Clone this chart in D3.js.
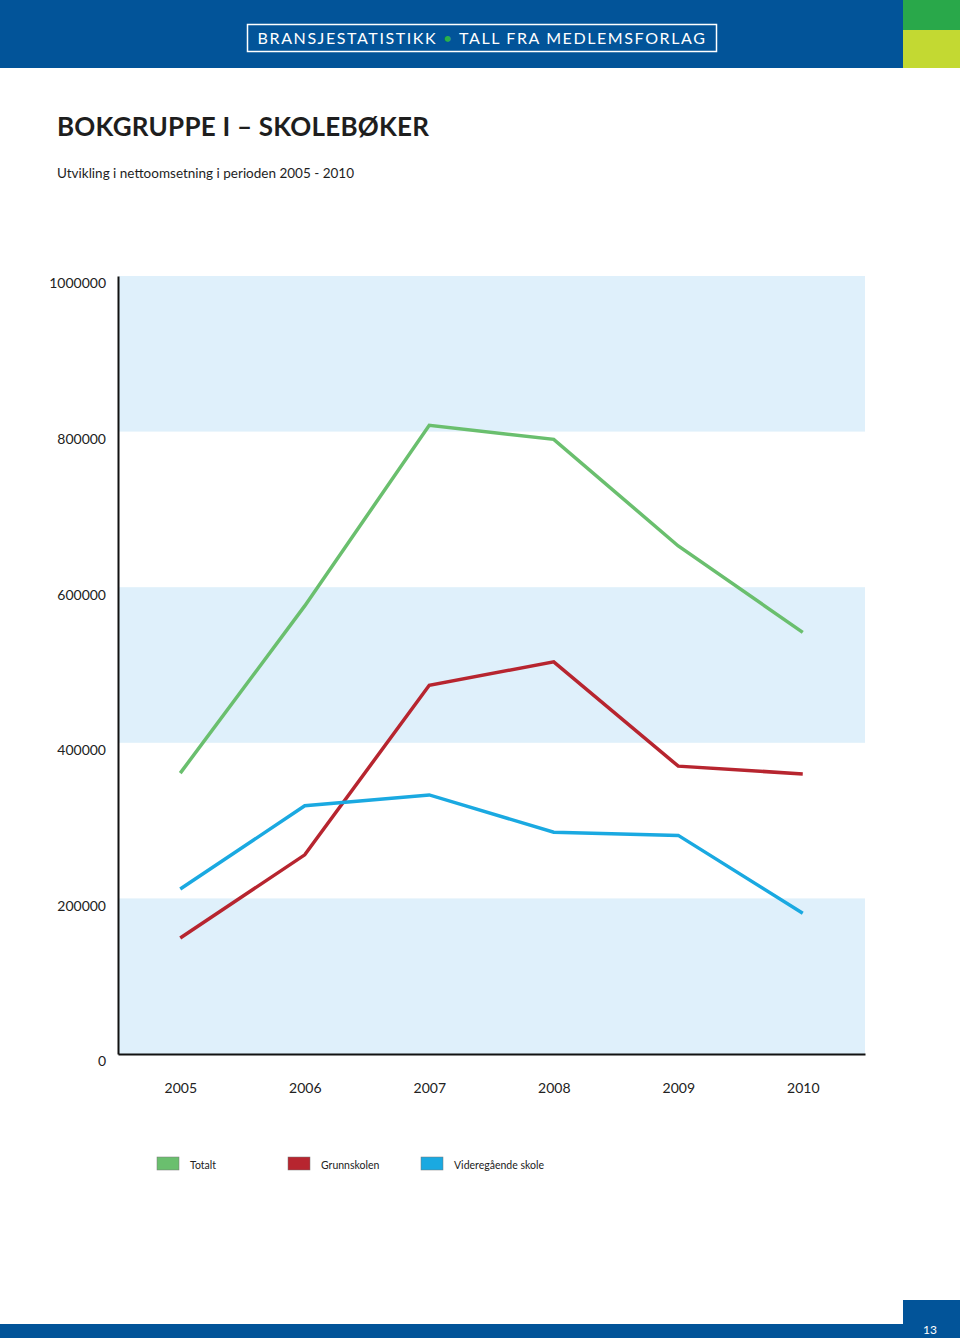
<!DOCTYPE html>
<html><head><meta charset="utf-8">
<script src="https://cdn.jsdelivr.net/npm/d3@7"></script>
<style>body{margin:0;background:#fff}svg{display:block}</style>
</head><body>
<script>
const years = ["2005","2006","2007","2008","2009","2010"];
const totalt = [361000, 576000, 808000, 790000, 653000, 542000];
const grunnskolen = [149000, 256000, 474000, 504000, 370000, 360000];
const videregaende = [212000, 319000, 333000, 285000, 281000, 181000];
const yTicks = [0, 200000, 400000, 600000, 800000, 1000000];
const seriesNames = ["Totalt", "Grunnskolen", "Videregående skole"];
const seriesColors = ["#6abf6e", "#b7252f", "#1aa9e1"];

const W = 960, H = 1338;
const svg = d3.select("body").append("svg").attr("width", W).attr("height", H);
const font = "Lato, 'Open Sans', sans-serif";

// header
svg.append("rect").attr("x",0).attr("y",0).attr("width",W).attr("height",68).attr("fill","#025499");
svg.append("rect").attr("x",903).attr("y",0).attr("width",57).attr("height",30).attr("fill","#29a84a");
svg.append("rect").attr("x",903).attr("y",30).attr("width",57).attr("height",38).attr("fill","#c3d932");
svg.append("rect").attr("x",247.5).attr("y",24.5).attr("width",469).attr("height",27).attr("fill","none").attr("stroke","#fff").attr("stroke-width",1.5);
const ht = svg.append("text").attr("x",482).attr("y",44).attr("text-anchor","middle")
  .attr("fill","#fff").attr("font-family",font).attr("font-size",16).attr("letter-spacing",1.6);
ht.append("tspan").text("BRANSJESTATISTIKK ");
ht.append("tspan").attr("fill","#2bb04a").text(" • ");
ht.append("tspan").text(" TALL FRA MEDLEMSFORLAG");

// title
svg.append("text").attr("x",57).attr("y",136).attr("font-family",font).attr("font-weight","bold")
  .attr("font-size",26).attr("fill","#1e1e1e").attr("textLength",372).attr("lengthAdjust","spacing")
  .text("BOKGRUPPE I – SKOLEBØKER");
svg.append("text").attr("x",57).attr("y",178).attr("font-family",font)
  .attr("font-size",13.5).attr("fill","#1e1e1e").text("Utvikling i nettoomsetning i perioden 2005 - 2010");

// chart
const x = d3.scalePoint().domain(years).range([118, 865]).padding(0.5);
const y = d3.scaleLinear().domain([0, 1000000]).range([1054, 276]);

// bands
for (let i = 0; i < yTicks.length - 1; i += 2) {
  svg.append("rect").attr("x",119).attr("width",746)
    .attr("y", y(yTicks[i+1])).attr("height", y(yTicks[i]) - y(yTicks[i+1]))
    .attr("fill","#dff0fb");
}

const yAxis = svg.append("g").attr("transform","translate(118,0)")
  .call(d3.axisLeft(y).tickValues(yTicks).tickSize(0).tickPadding(12).tickFormat(d3.format("d")));
yAxis.select(".domain").attr("stroke","#111").attr("stroke-width",2);
yAxis.selectAll("text").attr("font-family",font).attr("font-size",14).attr("fill","#222").attr("dy","0.85em");

const xAxis = svg.append("g").attr("transform","translate(0,1054)")
  .call(d3.axisBottom(x).tickSize(0).tickPadding(29));
xAxis.select(".domain").attr("stroke","#111").attr("stroke-width",2);
xAxis.selectAll("text").attr("font-family",font).attr("font-size",14).attr("fill","#222");

const line = d3.line().x((d,i) => x(years[i])).y(d => y(d));
[totalt, grunnskolen, videregaende].forEach((s, k) => {
  svg.append("path").attr("d", line(s)).attr("fill","none")
    .attr("stroke", seriesColors[k]).attr("stroke-width",3.5).attr("stroke-linejoin","miter");
});

// legend
const legX = [157, 288, 421];
seriesNames.forEach((n, k) => {
  svg.append("rect").attr("x",legX[k]).attr("y",1157).attr("width",22).attr("height",13)
    .attr("fill",seriesColors[k]).attr("stroke","#777").attr("stroke-width",0.5);
  svg.append("text").attr("x",legX[k]+33).attr("y",1169).attr("font-family",font)
    .attr("font-size",10.5).attr("fill","#222").text(n);
});

// footer
svg.append("rect").attr("x",0).attr("y",1324).attr("width",W).attr("height",14).attr("fill","#025499");
svg.append("rect").attr("x",903).attr("y",1300).attr("width",57).attr("height",38).attr("fill","#025499");
svg.append("text").attr("x",930).attr("y",1334).attr("text-anchor","middle").attr("font-family",font)
  .attr("font-size",12).attr("fill","#fff").text("13");
</script>
</body></html>
